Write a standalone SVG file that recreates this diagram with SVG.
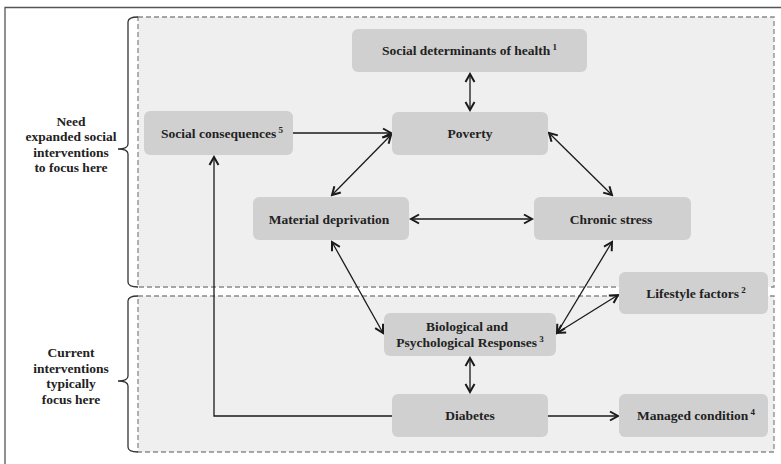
<svg xmlns="http://www.w3.org/2000/svg" width="781" height="464" viewBox="0 0 781 464">
<defs>
<marker id="arr" viewBox="-10 -6 12 12" refX="0" refY="0" markerWidth="12" markerHeight="12" markerUnits="userSpaceOnUse" orient="auto-start-reverse">
<path d="M-8,-4.5 L0,0 L-8,4.5" fill="none" stroke="#1a1a1a" stroke-width="2"/>
</marker>
</defs>
<style>
.region{fill:#efefef;stroke:#8a8a8a;stroke-width:1.3;stroke-dasharray:5 3}
.brace{fill:none;stroke:#333;stroke-width:1.3}
.node rect{fill:#d0d0d0}
text{font-family:"Liberation Serif","Times New Roman",serif;font-weight:bold;fill:#222}
.lbl{font-size:13.5px;text-anchor:middle}
.side{font-size:13.5px;text-anchor:middle}
.sup{font-size:9px}
.conn path,.conn line{fill:none;stroke:#1a1a1a;stroke-width:1.3}
</style>
<rect width="781" height="464" fill="#fff"/>
<path d="M5,464 V7.5 H781" fill="none" stroke="#555" stroke-width="1.3"/>
<rect class="region" x="138" y="17" width="636" height="270"/>
<rect class="region" x="138" y="296" width="636" height="156"/>
<path class="brace" d="M138,17 Q128,17 128,22 V144 Q128,149 118,149 Q128,149 128,154 V282 Q128,287 138,287"/>
<path class="brace" d="M138,296 Q128,296 128,301 V376 Q128,381 118,381 Q128,381 128,386 V447 Q128,452 138,452"/>
<g id="label-top">
<text class="side" x="71" y="126">Need</text>
<text class="side" x="71" y="141">expanded social</text>
<text class="side" x="71" y="156.5">interventions</text>
<text class="side" x="71" y="172">to focus here</text>
</g>
<g id="label-bottom">
<text class="side" x="71" y="357">Current</text>
<text class="side" x="71" y="372.5">interventions</text>
<text class="side" x="71" y="388">typically</text>
<text class="side" x="71" y="403.5">focus here</text>
</g>
<g class="conn" id="connectors">
<line x1="470" y1="74" x2="470" y2="110" marker-start="url(#arr)" marker-end="url(#arr)"/>
<line x1="293" y1="133" x2="391" y2="133" marker-end="url(#arr)"/>
<line x1="391" y1="135" x2="332" y2="195" marker-start="url(#arr)" marker-end="url(#arr)"/>
<line x1="549" y1="133" x2="612" y2="195" marker-start="url(#arr)" marker-end="url(#arr)"/>
<line x1="411" y1="219" x2="532" y2="219" marker-start="url(#arr)" marker-end="url(#arr)"/>
<line x1="332" y1="242" x2="383" y2="333" marker-start="url(#arr)" marker-end="url(#arr)"/>
<line x1="612" y1="242" x2="557" y2="333" marker-start="url(#arr)" marker-end="url(#arr)"/>
<line x1="557" y1="333" x2="618" y2="295" marker-start="url(#arr)" marker-end="url(#arr)"/>
<line x1="470" y1="358" x2="470" y2="392" marker-start="url(#arr)" marker-end="url(#arr)"/>
<line x1="548" y1="416" x2="618" y2="416" marker-end="url(#arr)"/>
<path d="M392,416 H214 V157" marker-end="url(#arr)"/>
</g>
<g class="node" id="n-sdh">
<rect x="352" y="29" width="235" height="43" rx="6"/>
<text class="lbl" x="469.5" y="55">Social determinants of health<tspan class="sup" dy="-5"> 1</tspan></text>
</g>
<g class="node" id="n-poverty">
<rect x="392" y="112" width="156" height="43" rx="6"/>
<text class="lbl" x="470" y="138">Poverty</text>
</g>
<g class="node" id="n-social">
<rect x="144" y="111" width="149" height="44" rx="6"/>
<text class="lbl" x="222" y="138">Social consequences<tspan class="sup" dy="-5"> 5</tspan></text>
</g>
<g class="node" id="n-material">
<rect x="253" y="197" width="156" height="43" rx="6"/>
<text class="lbl" x="329" y="223.5">Material deprivation</text>
</g>
<g class="node" id="n-chronic">
<rect x="534" y="197" width="157" height="43" rx="6"/>
<text class="lbl" x="611" y="223.5">Chronic stress</text>
</g>
<g class="node" id="n-lifestyle">
<rect x="619" y="272" width="149" height="42" rx="6"/>
<text class="lbl" x="696" y="297.5">Lifestyle factors<tspan class="sup" dy="-5"> 2</tspan></text>
</g>
<g class="node" id="n-bio">
<rect x="384" y="313" width="172" height="43" rx="6"/>
<text class="lbl" x="467" y="331">Biological and</text>
<text class="lbl" x="470" y="347">Psychological Responses<tspan class="sup" dy="-5"> 3</tspan></text>
</g>
<g class="node" id="n-diabetes">
<rect x="392" y="394" width="156" height="43" rx="6"/>
<text class="lbl" x="470" y="420">Diabetes</text>
</g>
<g class="node" id="n-managed">
<rect x="619" y="394" width="149" height="43" rx="6"/>
<text class="lbl" x="696" y="420">Managed condition<tspan class="sup" dy="-5"> 4</tspan></text>
</g>
</svg>
